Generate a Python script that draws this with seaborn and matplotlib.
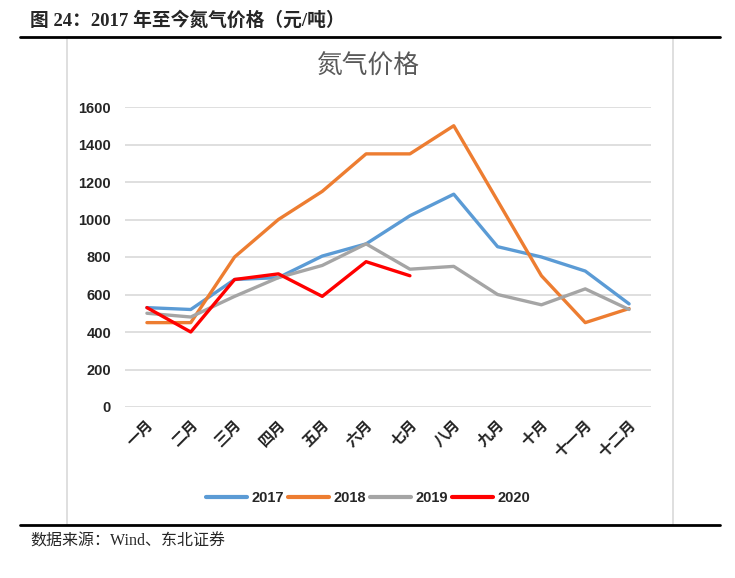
import pandas as pd
import seaborn as sns
import matplotlib.pyplot as plt
from matplotlib.patches import Rectangle
from matplotlib.lines import Line2D

months = ["一月", "二月", "三月", "四月", "五月", "六月",
          "七月", "八月", "九月", "十月", "十一月", "十二月"]
p2017 = [530, 520, 680, 690, 805, 870, 1020, 1135, 855, 800, 725, 550]
p2018 = [450, 450, 800, 1000, 1150, 1350, 1350, 1500, 1100, 700, 450, 525]
p2019 = [500, 480, 590, 690, 755, 870, 735, 750, 600, 545, 630, 520]
p2020 = [530, 400, 680, 710, 590, 775, 700]
years = ["2017", "2018", "2019", "2020"]
colors = ["#5B9BD5", "#ED7D31", "#A5A5A5", "#FF0000"]

rows = []
for yr, vals in zip(years, [p2017, p2018, p2019, p2020]):
    for i, v in enumerate(vals):
        rows.append({"month": i, "price": v, "year": yr})
df = pd.DataFrame(rows)

sns.set_style("white")
plt.rcParams['font.family'] = ['Liberation Sans', 'Noto Sans CJK SC', 'DejaVu Sans']

fig = plt.figure(figsize=(7.35, 5.78), dpi=100)

# outer frame and rules
fig.patches.append(Rectangle((67/735, 1-525/578), (673-67)/735, (525-37)/578,
                             transform=fig.transFigure, fill=False,
                             edgecolor="#D9D9D9", lw=1.2))
fig.add_artist(Line2D([20/735, 720/735], [1-37/578, 1-37/578],
                      transform=fig.transFigure, color="black", lw=2))
fig.add_artist(Line2D([20/735, 720/735], [1-525/578, 1-525/578],
                      transform=fig.transFigure, color="black", lw=2))

fig.text(30/735, 1-20/578, "图 24：2017 年至今氮气价格（元/吨）",
         family=['Liberation Serif', 'Noto Sans CJK SC'], fontweight='bold',
         fontsize=13.5, va='center', ha='left')
fig.text(30/735, 1-542/578, "数据来源：Wind、东北证券",
         family=['Liberation Serif', 'Noto Sans CJK SC'], fontsize=11.5,
         va='center', ha='left')
fig.text(368/735, 1-67/578, "氮气价格", family=['Noto Sans CJK SC'],
         fontsize=18.5, color="#595959", ha='center', va='center')

ax = fig.add_axes([125/735, 1-407/578, (651-125)/735, 300/578])
sns.lineplot(data=df, x="month", y="price", hue="year", palette=colors,
             linewidth=2.4, ax=ax, sort=False, legend=False)

ax.set_xlim(-0.5, 11.5)
ax.set_ylim(0, 1600)
ax.set_yticks(range(0, 1601, 200))
ax.set_yticklabels([str(v) for v in range(0, 1601, 200)], fontweight='bold', fontsize=10.5)
ax.set_xticks(range(12))
ax.set_xticklabels(months, rotation=45, ha='right', rotation_mode='anchor',
                   fontweight='bold', fontsize=11)
ax.tick_params(axis='x', pad=8, length=0)
ax.tick_params(axis='y', length=0, pad=10)
ax.grid(axis='y', color="#D9D9D9", lw=1.2)
ax.set_axisbelow(True)
for s in ax.spines.values():
    s.set_visible(False)
ax.set_xlabel("")
ax.set_ylabel("")

handles = [Line2D([0], [0], color=c, lw=3) for c in colors]
leg = fig.legend(handles, years, loc='center', bbox_to_anchor=(368/735, 1-498/578),
                 ncol=4, frameon=False, handlelength=2.8, handletextpad=0.3,
                 columnspacing=0.3, prop={'weight': 'bold', 'size': 10.5})

fig.savefig("out.png", dpi=100)
